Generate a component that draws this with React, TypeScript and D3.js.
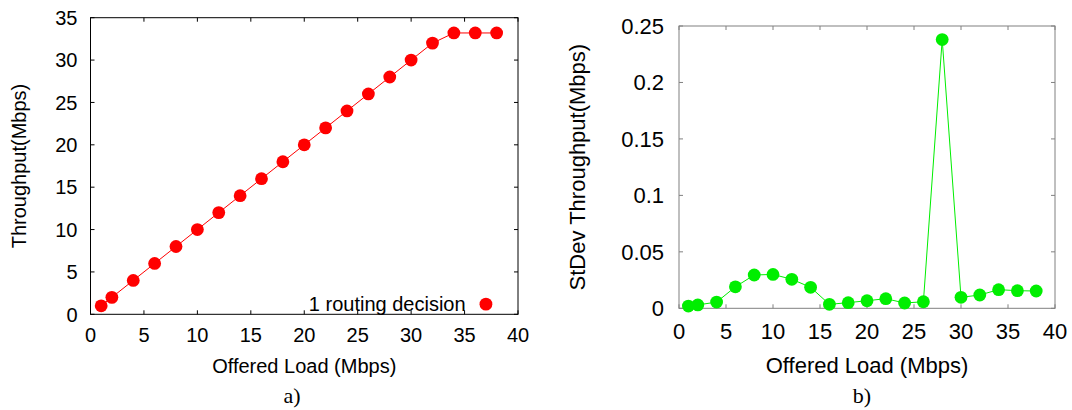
import React from "react";
import * as d3 from "d3";

const loadA = [1, 2, 4, 6, 8, 10, 12, 14, 16, 18, 20, 22, 24, 26, 28, 30, 32, 34, 36, 38];
const throughputA = [1, 2, 4, 6, 8, 10, 12, 14, 16, 18, 20, 22, 24, 26, 28, 30, 32, 33.2, 33.2, 33.2];
const loadB = [1, 2, 4, 6, 8, 10, 12, 14, 16, 18, 20, 22, 24, 26, 28, 30, 32, 34, 36, 38];
const stdevB = [0.002, 0.003, 0.0055, 0.019, 0.0295, 0.03, 0.0257, 0.0186, 0.0035, 0.005, 0.0067, 0.0085, 0.0047, 0.0058, 0.238, 0.0097, 0.0118, 0.0165, 0.0156, 0.0153];
const xTicks = [0, 5, 10, 15, 20, 25, 30, 35, 40];
const yTicksA = [0, 5, 10, 15, 20, 25, 30, 35];
const yTicksB = [0, 0.05, 0.1, 0.15, 0.2, 0.25];

const SANS = "'Liberation Sans', Arial, Helvetica, sans-serif";
const SERIF = "'Liberation Serif', 'Times New Roman', serif";

type PanelProps = {
  xs: number[];
  ys: number[];
  yTicks: number[];
  yMax: number;
  left: number;
  right: number;
  top: number;
  bottom: number;
  color: string;
  frameColor: string;
  fontSize: number;
  yTitle: string;
  yTitleX: number;
  xTitleY: number;
  xTickY: number;
  yTickGap: number;
  r: number;
  legend?: string;
  caption: string;
  captionX: number;
  fmt: (v: number) => string;
};

function Panel(p: PanelProps) {
  const x = d3.scaleLinear().domain([0, 40]).range([p.left, p.right]);
  const y = d3.scaleLinear().domain([0, p.yMax]).range([p.bottom, p.top]);
  const line = d3
    .line<number>()
    .x((_, i) => x(p.xs[i]))
    .y((d) => y(d));
  const tl = 4;
  return (
    <g>
      <rect
        x={p.left}
        y={p.top}
        width={p.right - p.left}
        height={p.bottom - p.top}
        fill="none"
        stroke={p.frameColor}
        strokeWidth={1}
      />
      {xTicks.map((t) => (
        <g key={"x" + t}>
          <line x1={x(t)} x2={x(t)} y1={p.bottom} y2={p.bottom - tl} stroke={p.frameColor} />
          <line x1={x(t)} x2={x(t)} y1={p.top} y2={p.top + tl} stroke={p.frameColor} />
          <text
            x={x(t)}
            y={p.xTickY}
            textAnchor="middle"
            fontFamily={SANS}
            fontSize={p.fontSize}
            fill="#000"
          >
            {t}
          </text>
        </g>
      ))}
      {p.yTicks.map((t) => (
        <g key={"y" + t}>
          <line x1={p.left} x2={p.left + tl} y1={y(t)} y2={y(t)} stroke={p.frameColor} />
          <line x1={p.right} x2={p.right - tl} y1={y(t)} y2={y(t)} stroke={p.frameColor} />
          <text
            x={p.left - p.yTickGap}
            y={y(t)}
            dy="0.36em"
            textAnchor="end"
            fontFamily={SANS}
            fontSize={p.fontSize}
            fill="#000"
          >
            {p.fmt(t)}
          </text>
        </g>
      ))}
      <path d={line(p.ys) || ""} fill="none" stroke={p.color} strokeWidth={1} />
      {p.ys.map((v, i) => (
        <circle key={i} cx={x(p.xs[i])} cy={y(v)} r={p.r} fill={p.color} />
      ))}
      {p.legend && (
        <g>
          <text
            x={x(35.1)}
            y={y(1.2)}
            dy="0.33em"
            textAnchor="end"
            fontFamily={SANS}
            fontSize={p.fontSize}
            fill="#000"
          >
            {p.legend}
          </text>
          <circle cx={x(37)} cy={y(1.2)} r={p.r} fill={p.color} />
        </g>
      )}
      <text
        x={(p.left + p.right) / 2}
        y={p.xTitleY}
        textAnchor="middle"
        fontFamily={SANS}
        fontSize={p.fontSize}
        fill="#000"
      >
        Offered Load (Mbps)
      </text>
      <text
        transform={`translate(${p.yTitleX},${(p.top + p.bottom) / 2}) rotate(-90)`}
        textAnchor="middle"
        dy="0.36em"
        fontFamily={SANS}
        fontSize={p.fontSize}
        fill="#000"
      >
        {p.yTitle}
      </text>
      <text
        x={p.captionX}
        y={403}
        textAnchor="middle"
        fontFamily={SERIF}
        fontSize={22}
        fill="#000"
      >
        {p.caption}
      </text>
    </g>
  );
}

export default function App() {
  return (
    <svg
      width={1072}
      height={410}
      style={{ position: "absolute", left: 0, top: 0, background: "#fff" }}
    >
      <rect x={0} y={0} width={1072} height={410} fill="#fff" />
      <Panel
        xs={loadA}
        ys={throughputA}
        yTicks={yTicksA}
        yMax={35}
        left={90.5}
        right={518}
        top={17.7}
        bottom={314.3}
        color="#ff0000"
        frameColor="#000"
        fontSize={20}
        yTitle="Throughput(Mbps)"
        yTitleX={19}
        xTitleY={373}
        xTickY={342}
        yTickGap={13}
        r={6.4}
        legend="1 routing decision"
        caption="a)"
        captionX={292}
        fmt={(v) => String(v)}
      />
      <Panel
        xs={loadB}
        ys={stdevB}
        yTicks={yTicksB}
        yMax={0.25}
        left={679}
        right={1055}
        top={26}
        bottom={308.3}
        color="#00ee00"
        frameColor="#808080"
        fontSize={22}
        yTitle="StDev Throughput(Mbps)"
        yTitleX={577}
        xTitleY={373}
        xTickY={339}
        yTickGap={15}
        r={6.4}
        caption="b)"
        captionX={862}
        fmt={(v) => String(v)}
      />
    </svg>
  );
}
